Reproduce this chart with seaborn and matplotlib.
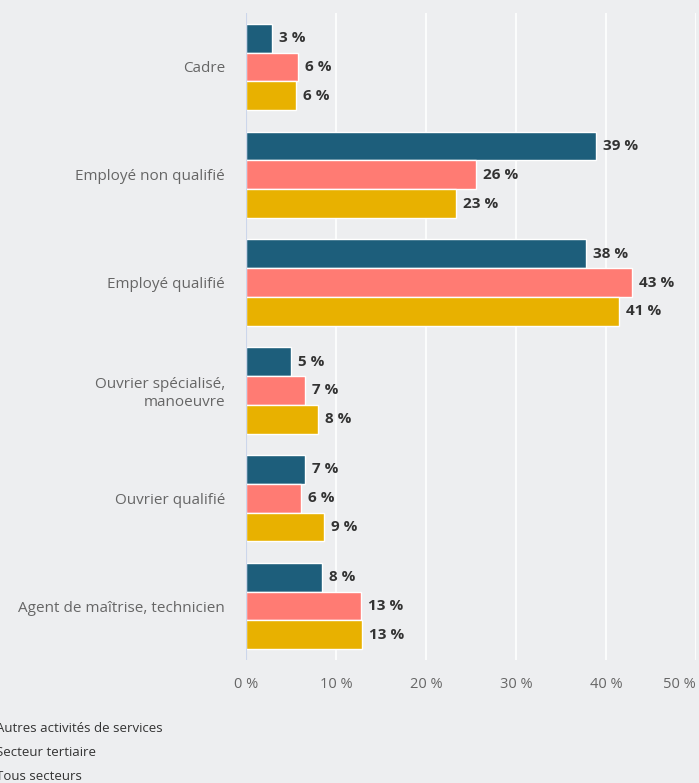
import matplotlib
matplotlib.use('Agg')
import matplotlib.pyplot as plt
import seaborn as sns
import pandas as pd
from matplotlib.ticker import FuncFormatter

# data
categories = ['Cadre', 'Employé non qualifié', 'Employé qualifié',
              'Ouvrier spécialisé,\nmanoeuvre', 'Ouvrier qualifié',
              'Agent de maîtrise, technicien']
series = ['Autres activités de services', 'Secteur tertiaire', 'Tous secteurs']
autres = [2.9, 38.9, 37.8, 5.0, 6.6, 8.4]
tertiaire = [5.8, 25.6, 42.9, 6.6, 6.1, 12.8]
tous = [5.6, 23.3, 41.4, 8.0, 8.7, 12.9]
colors = ['#1d5e7b', '#ff7b73', '#e8b100']

rows = []
for name, vals in zip(series, [autres, tertiaire, tous]):
    for cat, v in zip(categories, vals):
        rows.append({'cat': cat, 'serie': name, 'val': v})
df = pd.DataFrame(rows)

sns.set_style('white')
plt.rcParams['font.family'] = ['Open Sans', 'DejaVu Sans']
bg = '#edeef0'

fig = plt.figure(figsize=(6.99, 7.83), dpi=100, facecolor=bg)
ax = fig.add_axes([246 / 699, 1 - 660 / 783, 450 / 699, 647 / 783])
ax.set_facecolor(bg)

sns.barplot(data=df, y='cat', x='val', hue='serie', order=categories,
            hue_order=series, palette=colors, orient='h', width=0.8,
            saturation=1, ax=ax, legend=False)

for cont in ax.containers:
    ax.bar_label(cont, labels=[f'{round(v):.0f} %' for v in cont.datavalues],
                 padding=5, fontsize=11, fontweight='bold', color='#333333')

ax.set_xlim(0, 50)
ax.set_ylim(5.5, -0.5)
ax.set_xticks([0, 10, 20, 30, 40, 50])
ax.xaxis.set_major_formatter(FuncFormatter(lambda v, p: f'{v:.0f} %'))
ax.grid(axis='x', color='white', linewidth=1.2)
ax.grid(axis='y', visible=False)
ax.set_axisbelow(True)
for s in ax.spines.values():
    s.set_visible(False)
ax.axvline(0, color='#ccd6eb', linewidth=1.5, zorder=3)
ax.tick_params(axis='x', length=0, pad=12, labelsize=10.5, labelcolor='#666666')
ax.tick_params(axis='y', length=0, pad=15, labelsize=11, labelcolor='#666666')
ax.set_xlabel('')
ax.set_ylabel('')
# last tick label pulled inside the canvas
ax.get_xticklabels()[-1].set_horizontalalignment('right')

# legend (markers sit outside the visible area)
for i, name in enumerate(series):
    fig.text(-4 / 699, 1 - (728 + i * 24) / 783, name, fontsize=9.5,
             color='#333333', va='center', ha='left')

fig.savefig('out.png', dpi=100, facecolor=bg)
